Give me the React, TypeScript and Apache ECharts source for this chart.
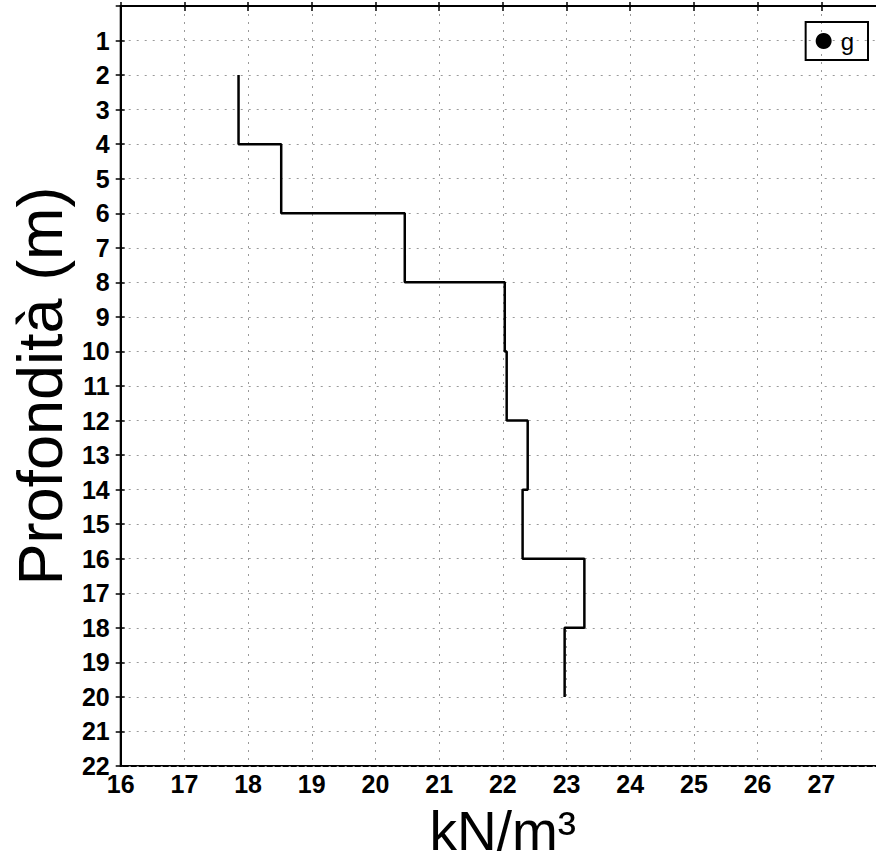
import React, { useEffect, useRef } from "react";
import * as echarts from "echarts";

const layerTops = [2, 4, 6, 8, 10, 12, 14, 16, 18];
const layerBottoms = [4, 6, 8, 10, 12, 14, 16, 18, 20];
const gammaValues = [17.85, 18.52, 20.46, 22.03, 22.06, 22.39, 22.31, 23.28, 22.97];
const seriesName = "g";
const xAxisTitle = "kN/m³";
const yAxisTitle = "Profondità (m)";
const xMin = 16;
const xMax = 28;
const yMin = 0;
const yMax = 22;

export default function App() {
  const ref = useRef<HTMLDivElement>(null);
  useEffect(() => {
    if (!ref.current) return;
    const chart = echarts.init(ref.current, null, { renderer: "svg" });
    const pts: number[][] = [];
    gammaValues.forEach((v, i) => {
      pts.push([v, layerTops[i]]);
      pts.push([v, layerBottoms[i]]);
    });
    const font = "'Liberation Sans', Arial, sans-serif";
    const splitStyle = { show: true, lineStyle: { color: "#9a9a9a", width: 1, type: [2, 6] as any } };
    chart.setOption({
      animation: false,
      backgroundColor: "#fff",
      grid: {
        left: 110,
        top: 6,
        right: 15,
        bottom: 92,
        show: true,
        borderColor: "#000",
        borderWidth: 2,
      },
      legend: {
        data: [{ name: seriesName, icon: "circle" }],
        right: 32,
        top: 22,
        itemWidth: 16,
        itemHeight: 16,
        itemGap: 4,
        padding: [7, 14, 7, 10],
        borderColor: "#000",
        borderWidth: 2,
        textStyle: { fontFamily: font, fontSize: 24, color: "#000", padding: [0, 0, 0, 4] },
      },
      xAxis: [
        {
          type: "value",
          min: xMin,
          max: xMax,
          interval: 1,
          position: "bottom",
          name: xAxisTitle,
          nameLocation: "middle",
          nameGap: 37,
          nameTextStyle: { fontFamily: font, fontSize: 55, color: "#000" },
          axisLine: { show: true, lineStyle: { color: "#000", width: 2 } },
          axisTick: { show: true, length: 5, lineStyle: { color: "#000", width: 1.5 } },
          axisLabel: {
            fontFamily: font,
            fontSize: 25,
            fontWeight: "bold",
            color: "#000",
            margin: 5,
            formatter: (v: number) => (v >= xMax ? "" : String(v)),
          },
          splitLine: splitStyle,
        },
        {
          type: "value",
          min: xMin,
          max: xMax,
          interval: 1,
          position: "bottom",
          axisLine: { show: false },
          axisTick: { show: true, inside: true, length: 4, lineStyle: { color: "#000", width: 1.5 } },
          axisLabel: { show: false },
          splitLine: { show: false },
        },
      ],
      yAxis: [
        {
          type: "value",
          inverse: true,
          min: yMin,
          max: yMax,
          interval: 1,
          position: "left",
          name: yAxisTitle,
          nameLocation: "middle",
          nameGap: 46,
          nameRotate: 90,
          nameTextStyle: { fontFamily: font, fontSize: 63, color: "#000" },
          axisLine: { show: true, lineStyle: { color: "#000", width: 2 } },
          axisTick: { show: true, length: 5, lineStyle: { color: "#000", width: 1.5 } },
          axisLabel: {
            fontFamily: font,
            fontSize: 25,
            fontWeight: "bold",
            color: "#000",
            margin: 11,
            formatter: (v: number) => (v <= yMin ? "" : String(v)),
          },
          splitLine: splitStyle,
        },
        {
          type: "value",
          inverse: true,
          min: yMin,
          max: yMax,
          interval: 1,
          position: "left",
          axisLine: { show: false },
          axisTick: { show: true, inside: true, length: 4, lineStyle: { color: "#000", width: 1.5 } },
          axisLabel: { show: false },
          splitLine: { show: false },
        },
      ],
      series: [
        {
          name: seriesName,
          type: "line",
          data: pts,
          showSymbol: false,
          symbol: "circle",
          itemStyle: { color: "#000" },
          lineStyle: { color: "#000", width: 2.5 },
        },
      ],
    });
    return () => chart.dispose();
  }, []);
  return (
    <div
      style={{
        position: "fixed",
        left: 0,
        top: 0,
        width: 876,
        height: 863,
        overflow: "hidden",
        background: "#fff",
      }}
    >
      <div ref={ref} style={{ width: 900, height: 863 }} />
    </div>
  );
}
